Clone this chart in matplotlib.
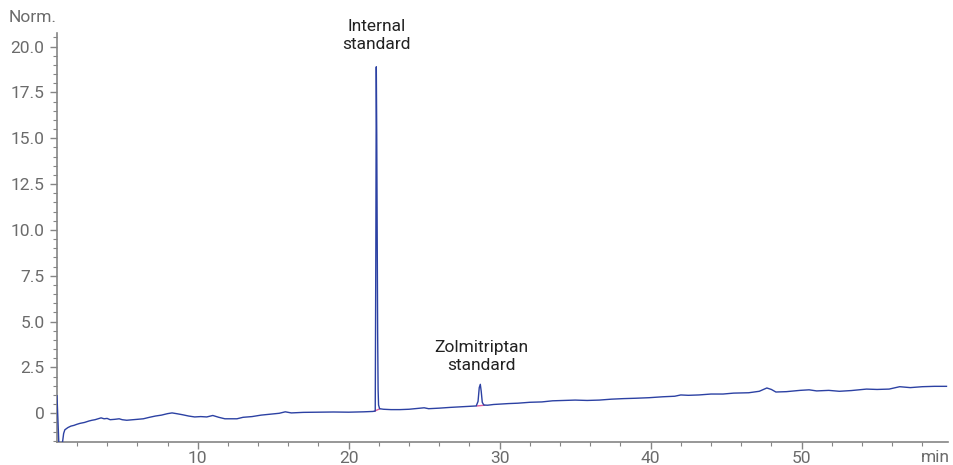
import matplotlib
matplotlib.use("Agg")
import matplotlib.pyplot as plt
from matplotlib.ticker import MultipleLocator

plt.rcParams["font.family"] = ["Roboto", "DejaVu Sans"]

# chromatogram trace (time in min, normalised signal)
time_min = [
    0.68, 0.72, 0.76, 0.80, 1.00, 1.05, 1.12, 1.20, 1.40, 1.60, 1.80, 2.00,
    2.20, 2.50, 2.80, 3.00, 3.20, 3.40, 3.60, 3.80, 4.00, 4.20, 4.50, 4.80,
    5.00, 5.30, 5.60, 6.00, 6.40, 6.80, 7.20, 7.60, 8.00, 8.30, 8.60, 9.00,
    9.40, 9.80, 10.2, 10.6, 11.0, 11.4, 11.8, 12.2, 12.6, 13.0, 13.6, 14.2,
    14.8, 15.4, 15.8, 16.2, 17.0, 18.0, 19.0, 20.0, 21.0, 21.6, 21.76, 21.80,
    21.83, 21.86, 21.89, 21.92, 21.95, 21.98, 22.05, 22.3, 22.8, 23.4, 24.0,
    24.6, 25.0, 25.3, 26.0, 26.7, 27.4, 28.0, 28.45, 28.57, 28.65, 28.72,
    28.78, 28.85, 28.95, 29.2, 29.6, 30.0, 30.6, 31.2, 32.0, 32.8, 33.5,
    34.2, 35.0, 35.8, 36.6, 37.4, 38.2, 39.0, 39.9, 40.8, 41.6, 42.0, 42.5,
    43.2, 44.0, 44.8, 45.5, 46.5, 47.2, 47.7, 48.0, 48.3, 49.0, 49.9, 50.5,
    51.0, 51.8, 52.5, 53.3, 54.3, 55.0, 55.8, 56.5, 57.2, 58.0, 58.8, 59.6,
]
signal = [
    0.95, 0.10, -0.60, -1.60, -1.60, -1.55, -1.10, -0.90, -0.78, -0.70, -0.66, -0.60,
    -0.55, -0.50, -0.42, -0.38, -0.35, -0.30, -0.25, -0.30, -0.28, -0.35, -0.33, -0.30,
    -0.35, -0.38, -0.36, -0.33, -0.30, -0.22, -0.15, -0.10, -0.02, 0.02, -0.02, -0.08,
    -0.15, -0.20, -0.18, -0.20, -0.12, -0.22, -0.30, -0.30, -0.30, -0.22, -0.18, -0.10,
    -0.05, 0.00, 0.08, 0.02, 0.05, 0.06, 0.07, 0.06, 0.08, 0.10, 0.12, 9.0,
    18.9, 15.2, 9.0, 4.3, 1.3, 0.45, 0.25, 0.22, 0.20, 0.20, 0.22,
    0.27, 0.30, 0.25, 0.28, 0.32, 0.35, 0.38, 0.40, 0.65, 1.40, 1.58,
    1.20, 0.60, 0.45, 0.44, 0.48, 0.50, 0.53, 0.55, 0.60, 0.62, 0.68,
    0.70, 0.72, 0.70, 0.72, 0.77, 0.80, 0.82, 0.85, 0.90, 0.93, 1.00, 0.98,
    1.00, 1.05, 1.05, 1.10, 1.12, 1.20, 1.38, 1.30, 1.16, 1.18, 1.25, 1.28,
    1.22, 1.25, 1.20, 1.24, 1.32, 1.30, 1.32, 1.45, 1.40, 1.45, 1.47, 1.47,
]

# integration baselines under the two peaks
is_base_t = [21.72, 22.05]
is_base_y = [0.12, 0.24]
zol_base_t = [28.5, 29.0]
zol_base_y = [0.40, 0.44]

peak_labels = ["Internal\nstandard", "Zolmitriptan\nstandard"]
label_t = [21.85, 28.8]
label_y = [19.7, 2.2]

fig = plt.figure(figsize=(9.54, 4.65), dpi=100)
ax = fig.add_axes([57 / 954, 1 - 441.7 / 465, (948 - 57) / 954, (441.7 - 32.7) / 465])

ax.plot(time_min, signal, color="#2c41a3", lw=1.0, zorder=3)
ax.plot(is_base_t, is_base_y, color="#e0609c", lw=1.0, zorder=2)
ax.plot(zol_base_t, zol_base_y, color="#e0609c", lw=1.0, zorder=2)

for lab, t, y in zip(peak_labels, label_t, label_y):
    ax.text(t, y, lab, ha="center", va="bottom", fontsize=12.5,
            color="#222222", linespacing=1.25)

ax.set_xlim(0.68, 59.7)
ax.set_ylim(-1.55, 20.76)

ax.xaxis.set_major_locator(MultipleLocator(10))
ax.xaxis.set_minor_locator(MultipleLocator(2))
ax.yaxis.set_major_locator(MultipleLocator(2.5))
ax.yaxis.set_minor_locator(MultipleLocator(0.5))
ax.yaxis.set_major_formatter(
    plt.FuncFormatter(lambda v, p: "0" if abs(v) < 1e-9 else f"{v:.1f}"))

grey = "#858585"
for side in ("top", "right"):
    ax.spines[side].set_visible(False)
for side in ("left", "bottom"):
    ax.spines[side].set_color(grey)
    ax.spines[side].set_linewidth(1.2)

ax.tick_params(which="major", length=5, width=1, color=grey,
               labelsize=12.5, labelcolor="#6b6b6b", pad=4)
ax.tick_params(axis="x", which="major", pad=1.5)
ax.tick_params(which="minor", length=3, width=0.8, color=grey)

fig.text(57 / 954, 1 - 18 / 465, "Norm.", ha="right", va="center",
         fontsize=12.5, color="#6b6b6b")
fig.text(935 / 954, 1 - 457 / 465, "min", ha="center", va="center",
         fontsize=12.5, color="#6b6b6b")

fig.savefig("out.png", dpi=100)
